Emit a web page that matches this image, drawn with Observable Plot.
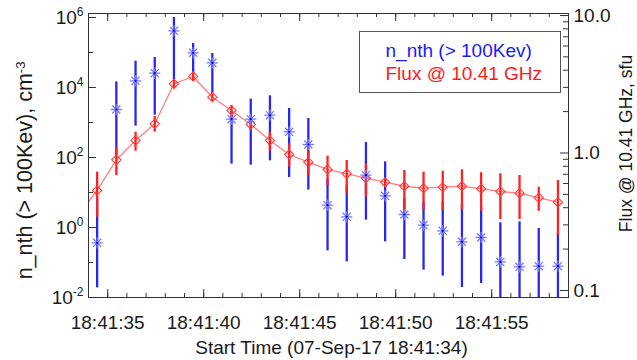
<!DOCTYPE html>
<html><head><meta charset="utf-8">
<script src="https://cdn.jsdelivr.net/npm/d3@7"></script>
<script src="https://cdn.jsdelivr.net/npm/@observablehq/plot@0.6"></script>
<style>
body{margin:0;background:#fff;}
#chart svg{display:block;}
</style>
</head><body><div id="chart"></div>
<script>
// time of each sample, seconds after 18:41:00 (first flux sample lies left of the frame)
const seconds = [33.45, 34.45, 35.45, 36.45, 37.45, 38.45, 39.45, 40.45, 41.45, 42.45, 43.45, 44.45, 45.45,
                 46.45, 47.45, 48.45, 49.45, 50.45, 51.45, 52.45, 53.45, 54.45, 55.45, 56.45, 57.45, 58.45];
// n_nth (> 100 keV), cm^-3 : samples 1..25
const nValue = [0.365, 2350, 15500, 25700, 416000, 98000, 50700, 1245, 1245, 1620, 541, 235, 4.35, 2.02, 31.3,
                8.03, 2.35, 1.17, 0.803, 0.389, 0.518, 0.104, 0.0752, 0.0785, 0.0785];
const nHigh  = [6.7, 14500, 56500, 72000, 1000000, 181000, 93600, 2018, 4640, 5780, 2512, 1300, 25, 16.2, 268,
                75.2, 6.7, 5.4, 5.4, 4.35, 3.89, 1.36, 1.45, 0.936, 0.674];
const nLow   = [0.0189, 117, 786, 1620, 16200, 25100, 6740, 64.5, 60.4, 80.3, 26.8, 11.7, 0.215, 0.104, 1.62,
                0.389, 0.122, 0.0604, 0.0407, 0.0193, 0.0251, 0.01, 0.01, 0.01, 0.01];
// Flux @ 10.41 GHz, sfu : samples 0..25
const fluxValue = [0.351, 0.534, 0.892, 1.233, 1.631, 3.187, 3.601, 2.545, 2.038, 1.612, 1.233, 0.975, 0.857, 0.759,
                   0.706, 0.656, 0.613, 0.573, 0.555, 0.564, 0.573, 0.549, 0.525, 0.510, 0.472, 0.439];
const fluxHigh  = [null, 0.725, 1.102, 1.417, 1.843, 3.368, 3.869, 2.695, 2.215, 1.752, 1.417, 1.166, 1.031, 0.948,
                   0.882, 0.835, 0.649, 0.746, 0.725, 0.737, 0.755, 0.718, 0.706, 0.686, 0.564, 0.631];
const fluxLow   = [null, 0.341, 0.686, 1.031, 1.417, 2.930, 3.311, 2.369, 1.821, 1.458, 1.031, 0.788, 0.686, 0.580,
                   0.510, 0.477, 0.564, 0.386, 0.386, 0.386, 0.386, 0.377, 0.328, 0.328, 0.377, 0.251];
// axis ticks
const xMajorSec = [35, 40, 45, 50, 55];
const xMinorSec = [34,35,36,37,38,39,40,41,42,43,44,45,46,47,48,49,50,51,52,53,54,55,56,57,58,59];
const leftMajor = [1e-2, 1e0, 1e2, 1e4, 1e6];
const leftMinor = [1e-1, 1e1, 1e3, 1e5];
const rightMajor = [0.1, 1, 10];
const rightMinor = [0.2,0.3,0.4,0.5,0.6,0.7,0.8,0.9,2,3,4,5,6,7,8,9];
const xDomainSec = [34, 59];
const leftDomain = [1e-2, Math.pow(10, 6.114)];
const rightDomain = [Math.pow(10, -1.051), Math.pow(10, 1.0145)];
const legendLabels = ["n_nth (> 100Kev)", "Flux @ 10.41 GHz"];

const toDate = s => new Date(Date.UTC(2017, 8, 7, 18, 41, 0) + s * 1000);
const L0 = Math.log10(leftDomain[0]), L1 = Math.log10(leftDomain[1]);
const R0 = Math.log10(rightDomain[0]), R1 = Math.log10(rightDomain[1]);
const r2l = f => Math.pow(10, L0 + (Math.log10(f) - R0) / (R1 - R0) * (L1 - L0));

const nRows = nValue.map((v, i) => ({t: toDate(seconds[i + 1]), v, lo: nLow[i], hi: nHigh[i]}));
const fRows = fluxValue.map((f, i) => ({t: toDate(seconds[i]), v: r2l(f),
  lo: fluxLow[i] == null ? null : r2l(fluxLow[i]), hi: fluxHigh[i] == null ? null : r2l(fluxHigh[i])}));
const fBars = fRows.filter(d => d.lo != null);

const W = 637, H = 360, mL = 88, mR = 69, mT = 13, mB = 63;
const pW = W - mL - mR, pH = H - mT - mB;

const asterisk = {draw(ctx, size) {
  const r = Math.sqrt(size / Math.PI), d = r * 0.72;
  ctx.moveTo(-r, 0); ctx.lineTo(r, 0);
  ctx.moveTo(0, -r); ctx.lineTo(0, r);
  ctx.moveTo(-d, -d); ctx.lineTo(d, d);
  ctx.moveTo(-d, d); ctx.lineTo(d, -d);
}};
const diamond = {draw(ctx, size) {
  const r = Math.sqrt(size / Math.PI);
  ctx.moveTo(0, -r); ctx.lineTo(r, 0); ctx.lineTo(0, r); ctx.lineTo(-r, 0); ctx.closePath();
}};

const ink = "#333";
const chart = Plot.plot({
  width: W, height: H,
  marginLeft: mL, marginRight: mR, marginTop: mT, marginBottom: mB,
  style: {fontSize: "19px", fontFamily: "'Liberation Sans', Arial, sans-serif", color: "#1a1a1a", background: "#fff"},
  x: {type: "utc", domain: xDomainSec.map(toDate)},
  y: {type: "log", domain: leftDomain},
  marks: [
    Plot.ruleX(nRows, {x: "t", y1: "lo", y2: "hi", stroke: "#2626f6", strokeWidth: 2.3, clip: true}),
    Plot.line(fRows, {x: "t", y: "v", stroke: "#ff7f7f", strokeWidth: 1.3, clip: true}),
    Plot.ruleX(fBars, {x: "t", y1: "lo", y2: "hi", stroke: "#ff2020", strokeWidth: 2.3, clip: true}),
    Plot.dot(fBars, {x: "t", y: "v", symbol: diamond, r: 4.6, stroke: "#ff3a3a", strokeWidth: 1.1, fill: "none"}),
    Plot.dot(nRows, {x: "t", y: "v", symbol: asterisk, r: 5.6, stroke: "#7878ff", strokeWidth: 1.3, fill: "none"}),
    Plot.dot(nRows, {x: "t", y: "v", r: 1.1, fill: "#0000c0"}),
    // frame and inward ticks
    Plot.frame({stroke: ink, strokeWidth: 1}),
    Plot.tickX(xMajorSec.map(toDate), {x: d => d, insetTop: pH - 8, stroke: ink}),
    Plot.tickX(xMinorSec.map(toDate), {x: d => d, insetTop: pH - 4, stroke: ink}),
    Plot.tickX(xMajorSec.map(toDate), {x: d => d, insetBottom: pH - 8, stroke: ink}),
    Plot.tickX(xMinorSec.map(toDate), {x: d => d, insetBottom: pH - 4, stroke: ink}),
    Plot.tickY(leftMajor, {y: d => d, insetRight: pW - 8, stroke: ink}),
    Plot.tickY(leftMinor, {y: d => d, insetRight: pW - 5, stroke: ink}),
    Plot.tickY(rightMajor.map(r2l), {y: d => d, insetLeft: pW - 8, stroke: ink}),
    Plot.tickY(rightMinor.map(r2l), {y: d => d, insetLeft: pW - 5, stroke: ink}),
    // axis labels
    Plot.axisX(xMajorSec.map(toDate), {tickSize: 0, tickPadding: 18, tickFormat: d3.utcFormat("%H:%M:%S"), label: null}),
    Plot.axisY(leftMajor, {anchor: "left", tickSize: 0, tickPadding: 5, tickFormat: d => "10^" + Math.round(Math.log10(d)), label: null}),
    Plot.text(rightMajor, {y: d => r2l(d), text: d => d.toFixed(1), frameAnchor: "right", dx: 5, textAnchor: "start", lineAnchor: "middle"}),
    // titles
    Plot.text(["Start Time (07-Sep-17 18:41:34)"], {text: d => d, frameAnchor: "bottom", dy: 50, dx: 3, textAnchor: "middle", lineAnchor: "middle"}),
    Plot.text(["n_nth (> 100Kev), cm"], {text: d => d, frameAnchor: "left", dx: -63, dy: 15, rotate: -90, textAnchor: "middle", lineAnchor: "middle", fontSize: 21.5}),
    Plot.text(["Flux @ 10.41 GHz, sfu"], {text: d => d, frameAnchor: "right", dx: 58, dy: -12, rotate: -90, textAnchor: "middle", lineAnchor: "middle", fontSize: 17.5}),
    // legend
    Plot.text([legendLabels[0]], {text: d => d, frameAnchor: "top-left", dx: 297, dy: 37, textAnchor: "start", lineAnchor: "middle", fill: "#1a1aff"}),
    Plot.text([legendLabels[1]], {text: d => d, frameAnchor: "top-left", dx: 297, dy: 60.5, textAnchor: "start", lineAnchor: "middle", fill: "#ff1a1a"})
  ]
});
document.getElementById("chart").appendChild(chart);

// superscripts and legend box
const NS = "http://www.w3.org/2000/svg";
chart.querySelectorAll("text").forEach(t => {
  const m = t.textContent.match(/^10\^(-?\d+)$/);
  if (m) {
    t.textContent = "10";
    const s = document.createElementNS(NS, "tspan");
    s.setAttribute("dy", "-0.6em"); s.setAttribute("font-size", "12"); s.textContent = m[1];
    t.appendChild(s);
  } else if (t.textContent === "n_nth (> 100Kev), cm") {
    const s = document.createElementNS(NS, "tspan");
    s.setAttribute("dy", "-0.6em"); s.setAttribute("font-size", "13"); s.textContent = "-3";
    t.appendChild(s);
  }
});
const box = document.createElementNS(NS, "rect");
box.setAttribute("x", 359.5); box.setAttribute("y", 31.5);
box.setAttribute("width", 201); box.setAttribute("height", 61);
box.setAttribute("fill", "none"); box.setAttribute("stroke", "#555"); box.setAttribute("stroke-width", 1);
chart.appendChild(box);
</script>
</body></html>
